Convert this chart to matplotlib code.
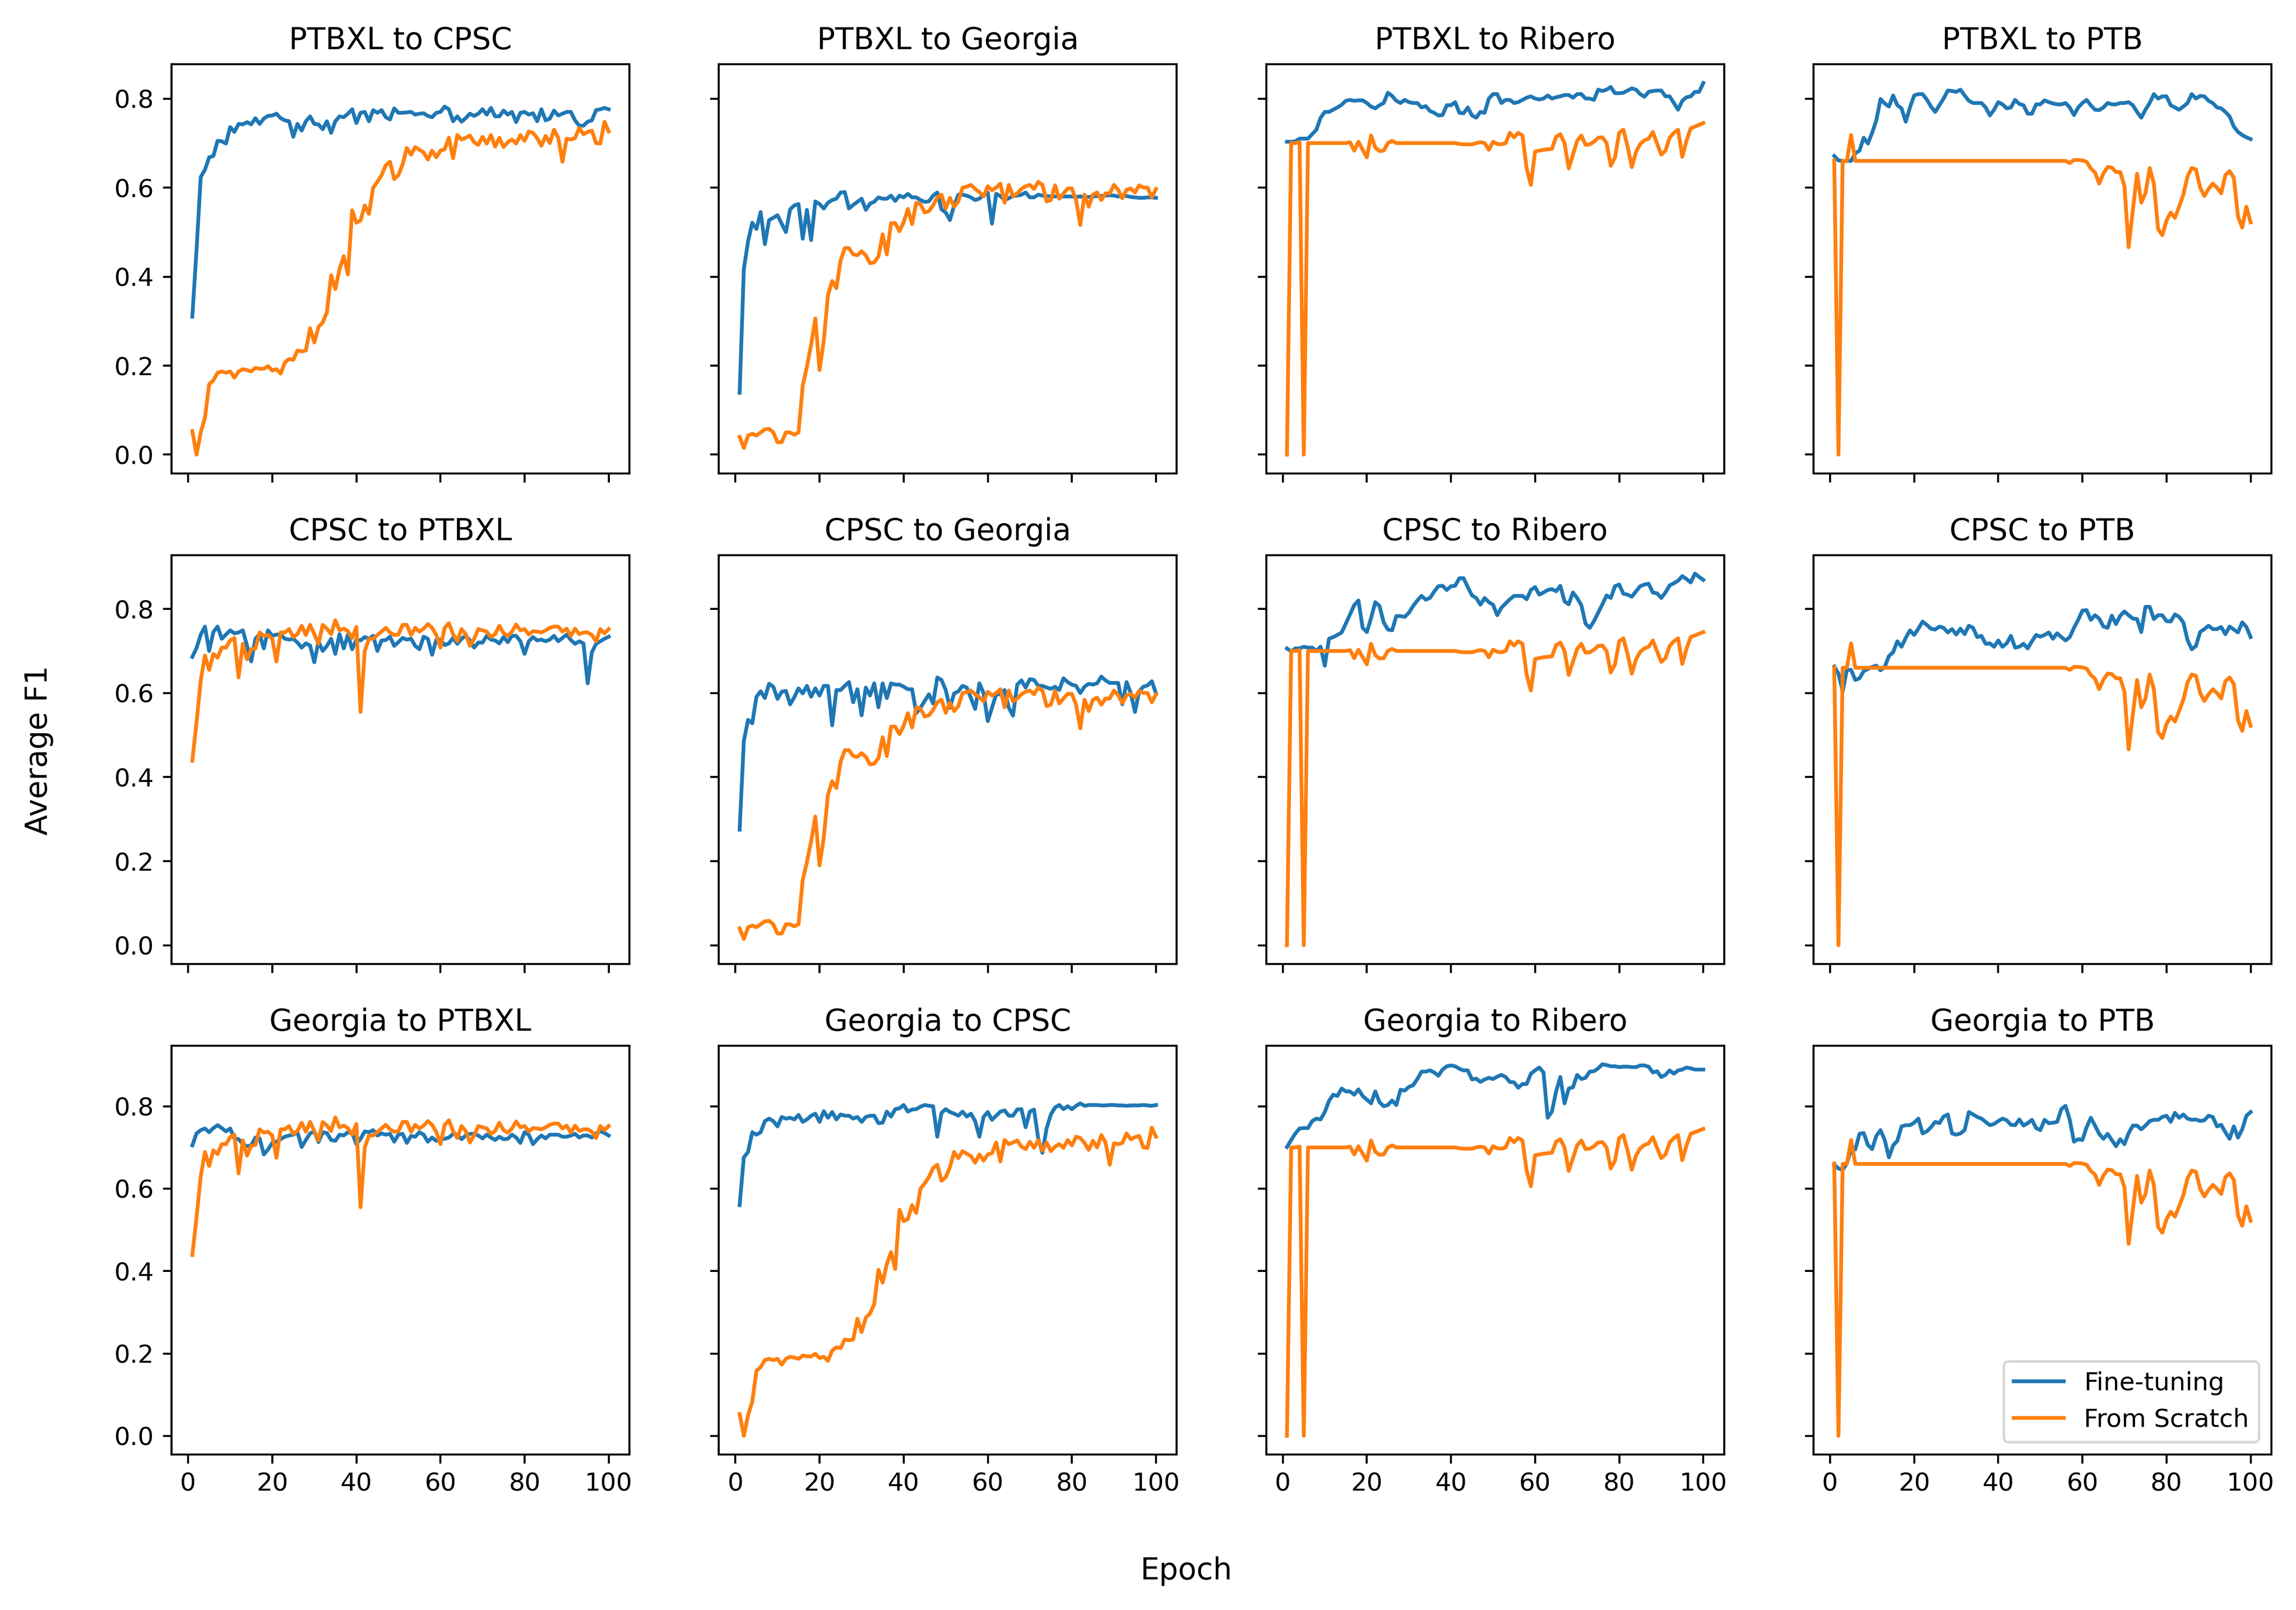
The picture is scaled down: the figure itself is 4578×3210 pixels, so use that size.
import matplotlib
matplotlib.use("Agg")
import matplotlib.pyplot as plt

epochs = list(range(1, 101))

# fine-tuning curves, one per panel (source to target)
ft_ptbxl_cpsc = [0.31, 0.46, 0.624, 0.64, 0.668, 0.671, 0.705, 0.704, 0.699, 0.736,
                 0.725, 0.743, 0.742, 0.747, 0.742, 0.756, 0.743, 0.755, 0.761, 0.762,
                 0.766, 0.756, 0.751, 0.749, 0.714, 0.743, 0.728, 0.749, 0.76, 0.743,
                 0.742, 0.731, 0.749, 0.723, 0.749, 0.76, 0.758, 0.766, 0.776, 0.745,
                 0.768, 0.77, 0.749, 0.774, 0.768, 0.774, 0.758, 0.753, 0.778, 0.768,
                 0.768, 0.769, 0.77, 0.764, 0.766, 0.767, 0.761, 0.758, 0.768, 0.77,
                 0.782, 0.776, 0.749, 0.76, 0.748, 0.756, 0.766, 0.761, 0.766, 0.776,
                 0.764, 0.779, 0.76, 0.76, 0.773, 0.764, 0.77, 0.747, 0.768, 0.77,
                 0.764, 0.767, 0.749, 0.776, 0.751, 0.755, 0.773, 0.762, 0.766, 0.77,
                 0.77, 0.751, 0.739, 0.739, 0.748, 0.751, 0.774, 0.776, 0.779, 0.776]
ft_ptbxl_georgia = [0.139, 0.417, 0.479, 0.521, 0.507, 0.545, 0.473, 0.527, 0.532, 0.538,
                    0.519, 0.50, 0.551, 0.56, 0.563, 0.485, 0.55, 0.482, 0.569, 0.563,
                    0.553, 0.566, 0.572, 0.575, 0.589, 0.59, 0.553, 0.561, 0.568, 0.575,
                    0.55, 0.564, 0.568, 0.578, 0.575, 0.575, 0.582, 0.57, 0.582, 0.578,
                    0.586, 0.578, 0.578, 0.572, 0.568, 0.569, 0.582, 0.589, 0.551, 0.544,
                    0.527, 0.56, 0.584, 0.584, 0.582, 0.578, 0.572, 0.575, 0.584, 0.589,
                    0.519, 0.586, 0.581, 0.572, 0.576, 0.581, 0.582, 0.584, 0.589, 0.578,
                    0.578, 0.584, 0.582, 0.581, 0.58, 0.58, 0.581, 0.58, 0.58, 0.58,
                    0.579, 0.58, 0.578, 0.579, 0.58, 0.581, 0.581, 0.582, 0.583, 0.582,
                    0.58, 0.582, 0.581, 0.579, 0.578, 0.577, 0.577, 0.578, 0.578, 0.577]
ft_ptbxl_ribero = [0.703, 0.703, 0.704, 0.71, 0.71, 0.71, 0.72, 0.73, 0.757, 0.77,
                   0.77, 0.775, 0.78, 0.786, 0.795, 0.797, 0.795, 0.796, 0.796, 0.79,
                   0.782, 0.778, 0.785, 0.79, 0.813, 0.806, 0.795, 0.79, 0.797, 0.792,
                   0.79, 0.79, 0.78, 0.783, 0.772, 0.768, 0.762, 0.763, 0.785, 0.785,
                   0.792, 0.768, 0.767, 0.78, 0.762, 0.757, 0.77, 0.768, 0.80, 0.81,
                   0.81, 0.79, 0.797, 0.797, 0.79, 0.792, 0.797, 0.802, 0.805, 0.80,
                   0.798, 0.80, 0.807, 0.80, 0.803, 0.805, 0.808, 0.808, 0.802, 0.81,
                   0.81, 0.80, 0.80, 0.797, 0.82, 0.817, 0.82, 0.826, 0.812, 0.812,
                   0.813, 0.818, 0.823, 0.82, 0.81, 0.804, 0.815, 0.817, 0.818, 0.818,
                   0.805, 0.805, 0.79, 0.775, 0.795, 0.803, 0.805, 0.815, 0.815, 0.835]
ft_ptbxl_ptb = [0.671, 0.661, 0.66, 0.66, 0.66, 0.677, 0.683, 0.712, 0.699, 0.723,
                0.751, 0.799, 0.789, 0.782, 0.807, 0.785, 0.778, 0.748, 0.78, 0.807,
                0.81, 0.81, 0.798, 0.782, 0.77, 0.785, 0.80, 0.818, 0.817, 0.815,
                0.82, 0.807, 0.795, 0.79, 0.79, 0.79, 0.78, 0.762, 0.775, 0.792,
                0.787, 0.778, 0.78, 0.797, 0.788, 0.785, 0.766, 0.766, 0.787, 0.787,
                0.796, 0.792, 0.789, 0.787, 0.787, 0.79, 0.78, 0.763, 0.78, 0.79,
                0.797, 0.785, 0.775, 0.774, 0.78, 0.79, 0.787, 0.787, 0.79, 0.79,
                0.792, 0.785, 0.77, 0.757, 0.775, 0.79, 0.81, 0.80, 0.805, 0.805,
                0.785, 0.78, 0.775, 0.782, 0.79, 0.81, 0.80, 0.806, 0.805, 0.795,
                0.79, 0.78, 0.778, 0.77, 0.76, 0.737, 0.725, 0.718, 0.713, 0.709]
ft_cpsc_ptbxl = [0.686, 0.707, 0.739, 0.758, 0.70, 0.745, 0.758, 0.729, 0.739, 0.749,
                 0.742, 0.744, 0.749, 0.713, 0.675, 0.729, 0.74, 0.706, 0.749, 0.736,
                 0.739, 0.739, 0.729, 0.727, 0.729, 0.72, 0.708, 0.718, 0.713, 0.673,
                 0.723, 0.70, 0.712, 0.729, 0.693, 0.74, 0.706, 0.739, 0.704, 0.727,
                 0.725, 0.733, 0.729, 0.736, 0.70, 0.725, 0.726, 0.734, 0.712, 0.721,
                 0.731, 0.727, 0.729, 0.712, 0.704, 0.734, 0.729, 0.691, 0.726, 0.727,
                 0.714, 0.718, 0.731, 0.717, 0.729, 0.736, 0.725, 0.708, 0.72, 0.72,
                 0.736, 0.727, 0.725, 0.718, 0.733, 0.721, 0.736, 0.736, 0.723, 0.693,
                 0.723, 0.733, 0.725, 0.727, 0.723, 0.727, 0.736, 0.723, 0.731, 0.739,
                 0.726, 0.717, 0.723, 0.718, 0.623, 0.697, 0.717, 0.723, 0.729, 0.734]
ft_cpsc_georgia = [0.275, 0.486, 0.536, 0.528, 0.591, 0.604, 0.588, 0.622, 0.615, 0.586,
                   0.603, 0.605, 0.573, 0.59, 0.611, 0.599, 0.617, 0.591, 0.611, 0.594,
                   0.617, 0.617, 0.523, 0.607, 0.607, 0.617, 0.626, 0.578, 0.609, 0.547,
                   0.613, 0.594, 0.623, 0.566, 0.623, 0.588, 0.623, 0.62, 0.62, 0.615,
                   0.609, 0.609, 0.552, 0.565, 0.581, 0.597, 0.575, 0.637, 0.631, 0.607,
                   0.565, 0.599, 0.604, 0.617, 0.613, 0.588, 0.562, 0.623, 0.60, 0.533,
                   0.565, 0.597, 0.597, 0.607, 0.565, 0.546, 0.62, 0.63, 0.613, 0.633,
                   0.631, 0.617, 0.617, 0.613, 0.61, 0.615, 0.607, 0.635, 0.626, 0.62,
                   0.617, 0.60, 0.615, 0.622, 0.62, 0.623, 0.639, 0.63, 0.624, 0.624,
                   0.624, 0.573, 0.626, 0.60, 0.555, 0.604, 0.615, 0.618, 0.628, 0.599]
ft_cpsc_ribero = [0.706, 0.699, 0.706, 0.706, 0.71, 0.708, 0.708, 0.70, 0.71, 0.665,
                  0.729, 0.733, 0.738, 0.744, 0.765, 0.787, 0.809, 0.82, 0.755, 0.745,
                  0.778, 0.816, 0.807, 0.768, 0.751, 0.749, 0.783, 0.783, 0.781, 0.791,
                  0.807, 0.82, 0.831, 0.822, 0.826, 0.841, 0.854, 0.855, 0.845, 0.854,
                  0.855, 0.873, 0.873, 0.852, 0.832, 0.826, 0.81, 0.826, 0.816, 0.81,
                  0.785, 0.803, 0.813, 0.823, 0.831, 0.831, 0.831, 0.823, 0.845, 0.852,
                  0.834, 0.839, 0.845, 0.847, 0.842, 0.855, 0.818, 0.811, 0.839, 0.826,
                  0.809, 0.765, 0.755, 0.771, 0.791, 0.811, 0.832, 0.826, 0.854, 0.858,
                  0.836, 0.834, 0.829, 0.842, 0.854, 0.858, 0.86, 0.839, 0.837, 0.826,
                  0.839, 0.856, 0.861, 0.867, 0.878, 0.871, 0.863, 0.884, 0.876, 0.869]
ft_cpsc_ptb = [0.663, 0.646, 0.604, 0.655, 0.655, 0.631, 0.635, 0.652, 0.657, 0.662,
               0.665, 0.654, 0.662, 0.688, 0.697, 0.723, 0.71, 0.731, 0.749, 0.738,
               0.753, 0.77, 0.762, 0.753, 0.751, 0.758, 0.755, 0.744, 0.752, 0.739,
               0.753, 0.74, 0.76, 0.755, 0.733, 0.736, 0.717, 0.718, 0.71, 0.725,
               0.71, 0.718, 0.736, 0.708, 0.71, 0.717, 0.706, 0.723, 0.738, 0.734,
               0.738, 0.744, 0.729, 0.742, 0.733, 0.725, 0.733, 0.755, 0.774, 0.796,
               0.797, 0.774, 0.785, 0.777, 0.758, 0.755, 0.784, 0.764, 0.784, 0.794,
               0.785, 0.777, 0.776, 0.745, 0.805, 0.805, 0.776, 0.785, 0.785, 0.771,
               0.77, 0.787, 0.781, 0.768, 0.726, 0.704, 0.712, 0.745, 0.752, 0.76,
               0.752, 0.752, 0.757, 0.74, 0.758, 0.751, 0.744, 0.768, 0.757, 0.733]
ft_georgia_ptbxl = [0.705, 0.734, 0.742, 0.746, 0.737, 0.747, 0.754, 0.747, 0.739, 0.746,
                    0.722, 0.72, 0.708, 0.703, 0.705, 0.724, 0.722, 0.683, 0.695, 0.711,
                    0.714, 0.72, 0.726, 0.729, 0.731, 0.737, 0.701, 0.718, 0.734, 0.739,
                    0.713, 0.737, 0.735, 0.718, 0.716, 0.731, 0.729, 0.737, 0.735, 0.708,
                    0.721, 0.739, 0.737, 0.742, 0.729, 0.734, 0.731, 0.733, 0.714, 0.731,
                    0.733, 0.711, 0.728, 0.726, 0.737, 0.731, 0.714, 0.724, 0.716, 0.72,
                    0.721, 0.724, 0.733, 0.731, 0.72, 0.729, 0.733, 0.733, 0.729, 0.722,
                    0.731, 0.724, 0.718, 0.726, 0.72, 0.721, 0.731, 0.724, 0.711, 0.737,
                    0.731, 0.708, 0.72, 0.729, 0.722, 0.731, 0.731, 0.731, 0.726, 0.726,
                    0.729, 0.733, 0.724, 0.729, 0.729, 0.724, 0.734, 0.739, 0.735, 0.729]
ft_georgia_cpsc = [0.56, 0.676, 0.689, 0.737, 0.731, 0.737, 0.764, 0.77, 0.764, 0.751,
                   0.774, 0.77, 0.772, 0.768, 0.779, 0.762, 0.768, 0.777, 0.782, 0.762,
                   0.788, 0.772, 0.786, 0.768, 0.78, 0.777, 0.777, 0.77, 0.774, 0.762,
                   0.774, 0.777, 0.777, 0.759, 0.76, 0.787, 0.775, 0.793, 0.795, 0.803,
                   0.787, 0.792, 0.793, 0.799, 0.803, 0.801, 0.80, 0.726, 0.784, 0.793,
                   0.786, 0.782, 0.777, 0.787, 0.775, 0.782, 0.764, 0.726, 0.774, 0.786,
                   0.767, 0.777, 0.787, 0.79, 0.777, 0.777, 0.792, 0.793, 0.749, 0.787,
                   0.792, 0.721, 0.687, 0.747, 0.78, 0.797, 0.803, 0.793, 0.80, 0.793,
                   0.801, 0.807, 0.801, 0.803, 0.803, 0.803, 0.802, 0.802, 0.803, 0.803,
                   0.802, 0.802, 0.801, 0.802, 0.802, 0.802, 0.803, 0.802, 0.801, 0.803]
ft_georgia_ribero = [0.701, 0.718, 0.734, 0.746, 0.747, 0.747, 0.764, 0.77, 0.768, 0.786,
                     0.813, 0.828, 0.825, 0.843, 0.836, 0.836, 0.828, 0.841, 0.825, 0.816,
                     0.807, 0.836, 0.81, 0.80, 0.803, 0.814, 0.803, 0.84, 0.838, 0.847,
                     0.851, 0.866, 0.884, 0.884, 0.887, 0.882, 0.874, 0.889, 0.897, 0.899,
                     0.897, 0.891, 0.887, 0.887, 0.865, 0.867, 0.859, 0.865, 0.869, 0.866,
                     0.872, 0.876, 0.871, 0.859, 0.858, 0.845, 0.854, 0.854, 0.879, 0.887,
                     0.894, 0.882, 0.772, 0.787, 0.836, 0.871, 0.807, 0.843, 0.846, 0.876,
                     0.866, 0.869, 0.884, 0.885, 0.892, 0.902, 0.90, 0.897, 0.897, 0.895,
                     0.896, 0.896, 0.895, 0.895, 0.899, 0.899, 0.896, 0.882, 0.885, 0.871,
                     0.876, 0.887, 0.879, 0.887, 0.889, 0.894, 0.892, 0.889, 0.889, 0.889]
ft_georgia_ptb = [0.658, 0.649, 0.645, 0.662, 0.695, 0.695, 0.733, 0.735, 0.706, 0.696,
                  0.728, 0.742, 0.718, 0.676, 0.705, 0.716, 0.751, 0.754, 0.754, 0.76,
                  0.77, 0.734, 0.739, 0.749, 0.762, 0.759, 0.775, 0.78, 0.734, 0.731,
                  0.734, 0.742, 0.786, 0.78, 0.774, 0.77, 0.762, 0.754, 0.757, 0.764,
                  0.77, 0.766, 0.755, 0.754, 0.768, 0.753, 0.759, 0.767, 0.747, 0.742,
                  0.767, 0.759, 0.76, 0.762, 0.793, 0.801, 0.767, 0.714, 0.72, 0.718,
                  0.749, 0.772, 0.753, 0.733, 0.721, 0.733, 0.718, 0.703, 0.72, 0.708,
                  0.735, 0.753, 0.753, 0.744, 0.753, 0.764, 0.767, 0.767, 0.774, 0.777,
                  0.762, 0.784, 0.772, 0.78, 0.77, 0.767, 0.768, 0.764, 0.766, 0.777,
                  0.774, 0.751, 0.755, 0.737, 0.721, 0.751, 0.724, 0.744, 0.777, 0.786]

# from-scratch curves depend only on the target dataset
fs_cpsc = [0.053, 0.0, 0.05, 0.083, 0.158, 0.167, 0.184, 0.187, 0.184, 0.187,
           0.173, 0.187, 0.192, 0.19, 0.187, 0.195, 0.193, 0.193, 0.199, 0.189,
           0.192, 0.182, 0.207, 0.215, 0.213, 0.234, 0.232, 0.234, 0.284, 0.252,
           0.287, 0.297, 0.32, 0.403, 0.372, 0.417, 0.446, 0.405, 0.549, 0.521,
           0.526, 0.56, 0.541, 0.60, 0.613, 0.628, 0.65, 0.658, 0.619, 0.628,
           0.652, 0.689, 0.674, 0.691, 0.685, 0.679, 0.663, 0.683, 0.668, 0.683,
           0.686, 0.712, 0.666, 0.718, 0.708, 0.712, 0.717, 0.702, 0.696, 0.714,
           0.699, 0.718, 0.692, 0.712, 0.691, 0.702, 0.708, 0.699, 0.718, 0.705,
           0.726, 0.723, 0.711, 0.694, 0.716, 0.70, 0.73, 0.712, 0.658, 0.71,
           0.708, 0.711, 0.734, 0.72, 0.725, 0.728, 0.70, 0.699, 0.748, 0.726]
fs_georgia = [0.04, 0.015, 0.043, 0.047, 0.043, 0.05, 0.057, 0.058, 0.05, 0.028,
              0.028, 0.05, 0.05, 0.045, 0.05, 0.155, 0.198, 0.247, 0.306, 0.19,
              0.256, 0.358, 0.39, 0.374, 0.436, 0.464, 0.464, 0.45, 0.448, 0.457,
              0.448, 0.43, 0.432, 0.445, 0.495, 0.45, 0.52, 0.52, 0.502, 0.522,
              0.552, 0.518, 0.566, 0.563, 0.544, 0.547, 0.56, 0.578, 0.584, 0.553,
              0.577, 0.557, 0.569, 0.60, 0.602, 0.606, 0.597, 0.59, 0.58, 0.603,
              0.594, 0.60, 0.609, 0.566, 0.606, 0.58, 0.587, 0.597, 0.603, 0.606,
              0.597, 0.613, 0.606, 0.569, 0.572, 0.605, 0.575, 0.587, 0.598, 0.598,
              0.572, 0.516, 0.584, 0.557, 0.584, 0.589, 0.572, 0.587, 0.587, 0.606,
              0.595, 0.576, 0.595, 0.598, 0.589, 0.605, 0.60, 0.60, 0.578, 0.597]
fs_ribero = [0.0, 0.70, 0.70, 0.702, 0.0, 0.70, 0.70, 0.70, 0.70, 0.70,
             0.70, 0.70, 0.70, 0.70, 0.70, 0.702, 0.683, 0.703, 0.685, 0.668,
             0.717, 0.69, 0.682, 0.683, 0.70, 0.705, 0.70, 0.70, 0.70, 0.70,
             0.70, 0.70, 0.70, 0.70, 0.70, 0.70, 0.70, 0.70, 0.70, 0.70,
             0.70, 0.698, 0.697, 0.697, 0.697, 0.70, 0.702, 0.70, 0.685, 0.703,
             0.698, 0.697, 0.70, 0.723, 0.713, 0.723, 0.717, 0.643, 0.606, 0.681,
             0.683, 0.685, 0.686, 0.687, 0.714, 0.72, 0.70, 0.643, 0.674, 0.705,
             0.717, 0.696, 0.697, 0.703, 0.712, 0.713, 0.70, 0.649, 0.668, 0.723,
             0.73, 0.692, 0.646, 0.68, 0.698, 0.706, 0.71, 0.725, 0.699, 0.674,
             0.683, 0.712, 0.723, 0.73, 0.669, 0.705, 0.733, 0.737, 0.741, 0.745]
fs_ptb = [0.661, 0.0, 0.66, 0.66, 0.718, 0.66, 0.66, 0.66, 0.66, 0.66,
          0.66, 0.66, 0.66, 0.66, 0.66, 0.66, 0.66, 0.66, 0.66, 0.66,
          0.66, 0.66, 0.66, 0.66, 0.66, 0.66, 0.66, 0.66, 0.66, 0.66,
          0.66, 0.66, 0.66, 0.66, 0.66, 0.66, 0.66, 0.66, 0.66, 0.66,
          0.66, 0.66, 0.66, 0.66, 0.66, 0.66, 0.66, 0.66, 0.66, 0.66,
          0.66, 0.66, 0.66, 0.66, 0.66, 0.66, 0.655, 0.662, 0.662, 0.661,
          0.658, 0.643, 0.634, 0.609, 0.632, 0.646, 0.645, 0.635, 0.635, 0.603,
          0.466, 0.55, 0.631, 0.566, 0.587, 0.644, 0.609, 0.507, 0.493, 0.526,
          0.544, 0.532, 0.557, 0.584, 0.625, 0.644, 0.641, 0.60, 0.581, 0.597,
          0.609, 0.60, 0.587, 0.628, 0.637, 0.622, 0.535, 0.51, 0.557, 0.522]
fs_ptbxl = [0.439, 0.53, 0.63, 0.689, 0.655, 0.693, 0.684, 0.708, 0.708, 0.725,
            0.731, 0.637, 0.717, 0.68, 0.704, 0.706, 0.744, 0.736, 0.738, 0.729,
            0.675, 0.744, 0.744, 0.752, 0.733, 0.74, 0.76, 0.738, 0.762, 0.74,
            0.717, 0.762, 0.753, 0.74, 0.773, 0.749, 0.753, 0.747, 0.731, 0.757,
            0.555, 0.70, 0.729, 0.729, 0.738, 0.746, 0.755, 0.744, 0.738, 0.739,
            0.762, 0.762, 0.738, 0.755, 0.746, 0.753, 0.764, 0.755, 0.738, 0.708,
            0.755, 0.766, 0.74, 0.723, 0.752, 0.74, 0.712, 0.729, 0.752, 0.749,
            0.746, 0.733, 0.74, 0.76, 0.742, 0.736, 0.746, 0.763, 0.749, 0.752,
            0.739, 0.747, 0.746, 0.744, 0.749, 0.755, 0.758, 0.758, 0.746, 0.753,
            0.736, 0.753, 0.74, 0.744, 0.744, 0.738, 0.723, 0.752, 0.742, 0.752]

titles = ["PTBXL to CPSC", "PTBXL to Georgia", "PTBXL to Ribero", "PTBXL to PTB",
          "CPSC to PTBXL", "CPSC to Georgia", "CPSC to Ribero", "CPSC to PTB",
          "Georgia to PTBXL", "Georgia to CPSC", "Georgia to Ribero", "Georgia to PTB"]
finetune = [ft_ptbxl_cpsc, ft_ptbxl_georgia, ft_ptbxl_ribero, ft_ptbxl_ptb,
            ft_cpsc_ptbxl, ft_cpsc_georgia, ft_cpsc_ribero, ft_cpsc_ptb,
            ft_georgia_ptbxl, ft_georgia_cpsc, ft_georgia_ribero, ft_georgia_ptb]
scratch = [fs_cpsc, fs_georgia, fs_ribero, fs_ptb,
           fs_ptbxl, fs_georgia, fs_ribero, fs_ptb,
           fs_ptbxl, fs_cpsc, fs_ribero, fs_ptb]

fig, axes = plt.subplots(3, 4, sharex=True, sharey='row',
                         figsize=(4578 / 360, 3210 / 360), dpi=360)
fig.subplots_adjust(left=0.0747, right=0.9893, top=0.960, bottom=0.0966,
                    wspace=0.195, hspace=0.2)

for i, ax in enumerate(axes.flat):
    ax.plot(epochs, finetune[i], label="Fine-tuning")
    ax.plot(epochs, scratch[i], label="From Scratch")
    ax.set_title(titles[i])
    ax.set_xticks([0, 20, 40, 60, 80, 100])

axes[-1, -1].legend(loc="lower right")
fig.supxlabel("Epoch", x=0.5166, y=0.015)
fig.supylabel("Average F1", x=0.0105, y=0.534)

fig.savefig("out.png", dpi=360)
